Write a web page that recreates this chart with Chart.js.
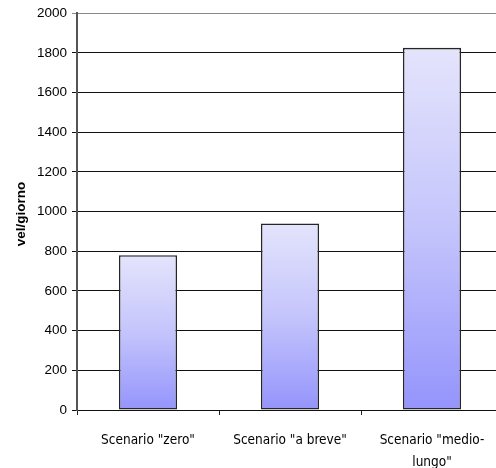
<!DOCTYPE html>
<html>
<head>
<meta charset="utf-8">
<script src="https://cdn.jsdelivr.net/npm/chart.js@4"></script>
<style>
  html, body { margin: 0; padding: 0; overflow: hidden; background: #fff; }
  #wrap { width: 503px; height: 468px; position: relative; }
</style>
</head>
<body>
<div id="wrap"><canvas id="c" width="503" height="468"></canvas></div>
<script>
// Traffic volumes per scenario (vehicles per day)
const categories = ['Scenario "zero"', 'Scenario "a breve"', ['Scenario "medio-', 'lungo"']];
const volumes = [780, 940, 1825];
const yTicks = { min: 0, max: 2000, step: 200 };
const yTitle = 'vel/giorno';

// Vertical gradient per bar: pale lavender at the top, periwinkle at the base
function barFill(ctx) {
  const chart = ctx.chart;
  const y = chart.scales && chart.scales.y;
  if (!y || ctx.dataIndex === undefined || !chart.chartArea) return '#c0c0fc';
  const top = y.getPixelForValue(ctx.raw);
  const base = y.getPixelForValue(0);
  const g = chart.ctx.createLinearGradient(0, top, 0, base);
  g.addColorStop(0, '#e4e4fc');
  g.addColorStop(0.5, '#c4c4fc');
  g.addColorStop(1, '#9494fc');
  return g;
}

// Rotated y-axis title, placed a little below the plot's vertical middle
const yTitlePlugin = {
  id: 'yTitle',
  afterDraw(chart) {
    const c = chart.ctx;
    c.save();
    c.translate(21, 214);
    c.rotate(-Math.PI / 2);
    c.font = 'bold 13.5px "Liberation Sans", Arial, sans-serif';
    c.fillStyle = '#000';
    c.textAlign = 'center';
    c.textBaseline = 'middle';
    c.fillText(yTitle, 0, 0);
    c.restore();
  }
};

new Chart(document.getElementById('c'), {
  type: 'bar',
  data: {
    labels: categories,
    datasets: [{
      data: volumes,
      backgroundColor: barFill,
      borderColor: '#262626',
      borderWidth: 1.6,
      borderSkipped: false,
      categoryPercentage: 1,
      barPercentage: 0.41
    }]
  },
  plugins: [yTitlePlugin],
  options: {
    responsive: false,
    animation: false,
    layout: { padding: { top: 11, right: 0, bottom: 0, left: 0 } },
    plugins: { legend: { display: false }, tooltip: { enabled: false } },
    scales: {
      x: {
        grid: { offset: true, drawOnChartArea: false, tickLength: 5, color: '#222', lineWidth: 1 },
        border: { color: '#111', width: 1 },
        ticks: {
          color: '#000',
          padding: 15,
          maxRotation: 0,
          autoSkip: false,
          font: { family: '"DejaVu Sans Condensed", "DejaVu Sans", sans-serif', size: 13.5, lineHeight: 1.6 }
        },
        afterFit(s) { s.height = 58; }
      },
      y: {
        min: yTicks.min,
        max: yTicks.max,
        grid: {
          color: c => c.tick && c.tick.value === yTicks.max ? '#888' : '#111',
          lineWidth: 1,
          tickLength: 5
        },
        border: { color: '#555', width: 2 },
        ticks: {
          stepSize: yTicks.step,
          color: '#000',
          padding: 5,
          callback: v => String(v),
          font: { family: '"Liberation Sans", Arial, sans-serif', size: 13.5 }
        },
        afterFit(s) { s.width = 77; }
      }
    }
  }
});
</script>
</body>
</html>
